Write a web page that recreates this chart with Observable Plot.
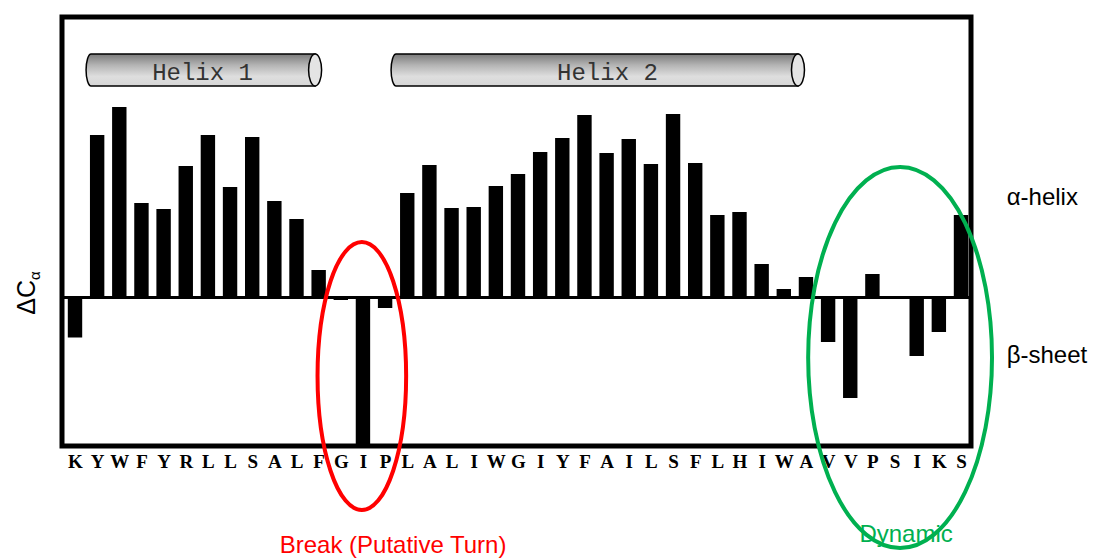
<!DOCTYPE html>
<html><head><meta charset="utf-8">
<script src="https://cdn.jsdelivr.net/npm/d3@7"></script>
<script src="https://cdn.jsdelivr.net/npm/@observablehq/plot@0.6"></script>
<style>body{margin:0;background:#fff;} svg{display:block}</style>
</head><body><div id="chart"></div>
<script>
// Residue sequence (x categories)
const sequence = ["K","Y","W","F","Y","R","L","L","S","A","L","F","G","I","P","L","A","L","I","W","G","I","Y","F","A","I","L","S","F","L","H","I","W","A","V","V","P","S","I","K","S"];
// Secondary chemical shift ΔCα per residue
const deltaCa = [-0.81,3.24,3.80,1.88,1.76,2.62,3.24,2.20,3.20,1.92,1.56,0.54,-0.06,-2.94,-0.22,2.08,2.64,1.78,1.80,2.22,2.46,2.90,3.18,3.64,2.88,3.16,2.66,3.66,2.68,1.64,1.70,0.66,0.16,0.40,-0.90,-2.02,0.46,-0.04,-1.18,-0.70,1.64];
// Helix annotations (fractional residue index, 0-based)
const helixNames = ["Helix 1","Helix 2"];
const helixStart = [0.5, 14.27];
const helixEnd = [10.84, 32.64];
const helixLabelPos = [5.76, 24.04];
const helixTopValue = 4.86, helixBottomValue = 4.22, helixTextValue = 4.34;
// Side labels
const sideLabels = ["α-helix","β-sheet"];
const sideLabelValues = [2.0, -1.16];
// Highlighted regions
const regionLabels = ["Break (Putative Turn)","Dynamic"];
const regionColors = ["#ff0000","#00b050"];
const regionCenter = [12.95, 37.25];
const regionHalfWidth = [2.0, 4.15];
const regionTop = [1.1, 2.6];
const regionBottom = [-4.26, -5.02];
const regionLabelPos = [14.36, 37.52];
const regionLabelValue = [-5.12, -4.9];

const idx = d3.range(sequence.length);
const rows = idx.map(i => ({i, res: sequence[i], v: deltaCa[i]}));

const plot = Plot.plot({
  width: 1096, height: 558,
  marginLeft: 67.8, marginRight: 127.8, marginTop: 16.5, marginBottom: 112.5,
  x: {type: "band", domain: idx, paddingInner: 0.35, paddingOuter: 0, align: 0.5, round: false, axis: null},
  y: {domain: [-2.97, 5.61], axis: null},
  style: {background: "#fff", fontFamily: "'Liberation Sans', Arial, sans-serif", overflow: "visible"},
  marks: [
    Plot.barY(rows, {x: "i", y1: 0, y2: "v", fill: "#000"}),
    Plot.ruleY([0], {stroke: "#000", strokeWidth: 3, insetLeft: -6.3, insetRight: -2.3}),
    Plot.frame({stroke: "#000", strokeWidth: 5, insetLeft: -6.3, insetRight: -2.3}),
    Plot.text(rows, {x: "i", text: "res", frameAnchor: "bottom", lineAnchor: "top", dy: 8, fontFamily: "'Liberation Serif', serif", fontWeight: "bold", fontSize: 19, fill: "#000"}),
    Plot.text(sideLabels, {y: sideLabelValues, text: d => d, frameAnchor: "right", dx: 38, textAnchor: "start", fontSize: 24, fill: "#000"})
  ]
});
document.getElementById("chart").appendChild(plot);

const xs = plot.scale("x"), ys = plot.scale("y");
const bw = xs.bandwidth;
const step = xs.apply(1) - xs.apply(0);
const xAt = f => xs.apply(0) + bw / 2 + f * step;
const yAt = v => ys.apply(v);
const svg = d3.select(plot);

const grad = svg.append("defs").append("linearGradient").attr("id", "cyl")
  .attr("x1", 0).attr("y1", 0).attr("x2", 0).attr("y2", 1);
[[0, "#7a7a7a"], [0.35, "#b4b4b4"], [0.7, "#dedede"], [1, "#d6d6d6"]].forEach(([o, c]) =>
  grad.append("stop").attr("offset", o).attr("stop-color", c));

const g = svg.append("g");
helixNames.forEach((name, k) => {
  const x0 = xAt(helixStart[k]), xc = xAt(helixEnd[k]);
  const yT = yAt(helixTopValue), yB = yAt(helixBottomValue);
  const ry = (yB - yT) / 2, r = 5, capRx = 6.5;
  g.append("path")
    .attr("d", `M${xc},${yT} L${x0 + r},${yT} A${r},${ry} 0 0 0 ${x0 + r},${yB} L${xc},${yB} Z`)
    .attr("fill", "url(#cyl)").attr("stroke", "#000").attr("stroke-width", 1.5);
  g.append("ellipse").attr("cx", xc).attr("cy", (yT + yB) / 2).attr("rx", capRx).attr("ry", ry)
    .attr("fill", "#e4e4e4").attr("stroke", "#000").attr("stroke-width", 1.5);
  g.append("text").attr("x", xAt(helixLabelPos[k])).attr("y", yAt(helixTextValue))
    .attr("text-anchor", "middle").attr("font-family", "'Liberation Mono', 'Courier New', monospace")
    .attr("font-size", 24).attr("fill", "#333").text(name);
});

regionLabels.forEach((lab, k) => {
  const yT = yAt(regionTop[k]), yB = yAt(regionBottom[k]);
  g.append("ellipse").attr("cx", xAt(regionCenter[k])).attr("cy", (yT + yB) / 2)
    .attr("rx", regionHalfWidth[k] * step).attr("ry", (yB - yT) / 2)
    .attr("fill", "none").attr("stroke", regionColors[k]).attr("stroke-width", 4);
  g.append("text").attr("x", xAt(regionLabelPos[k])).attr("y", yAt(regionLabelValue[k]))
    .attr("text-anchor", "middle").attr("font-size", 24).attr("fill", regionColors[k]).text(lab);
});

const yl = g.append("text").attr("transform", `translate(35,${yAt(0) - 4}) rotate(-90)`)
  .attr("text-anchor", "middle").attr("font-size", 25).attr("fill", "#000");
yl.append("tspan").text("ΔC");
yl.append("tspan").attr("font-size", 15).attr("dy", 5).text("α");
</script>
</body></html>
